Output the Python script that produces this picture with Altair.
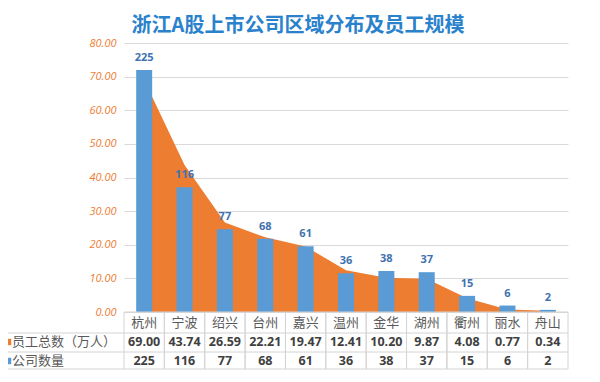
import altair as alt
import pandas as pd

# ---- data ----
cities = ["杭州", "宁波", "绍兴", "台州", "嘉兴", "温州", "金华", "湖州", "衢州", "丽水", "舟山"]
employees = [69.00, 43.74, 26.59, 22.21, 19.47, 12.41, 10.20, 9.87, 4.08, 0.77, 0.34]
companies = [225, 116, 77, 68, 61, 36, 38, 37, 15, 6, 2]
row_labels = ["员工总数（万人）", "公司数量"]
title_text = "浙江A股上市公司区域分布及员工规模"

ORANGE = "#ED7D31"
BLUE = "#5B9BD5"
GRID = "#D9D9D9"
FONT = "Noto Sans CJK SC"
NUMFONT = "Open Sans"

W, H = 444, 269
ROW1, ROW2, ROW3 = H + 11, H + 30, H + 49
L1, L2, L3 = H + 21, H + 40, H + 57
LEFT = -121

df = pd.DataFrame({
    "city": cities,
    "emp": employees,
    "cnt": companies,
})
df["emp_txt"] = [f"{v:.2f}" for v in employees]
df["cnt_txt"] = [str(v) for v in companies]

xenc = alt.X("city:N", sort=cities, axis=None,
             scale=alt.Scale(paddingInner=0, paddingOuter=0))

base = alt.Chart(df)

yleft = alt.Y("emp:Q", scale=alt.Scale(domain=[0, 80]),
              axis=alt.Axis(values=list(range(0, 81, 10)), format=".2f", title=None,
                            labelColor=ORANGE, labelFontStyle="italic", labelFontSize=11,
                            labelFont=NUMFONT, labelPadding=8, domain=False, ticks=False,
                            grid=True, gridColor=GRID))

area = base.mark_area(color=ORANGE, opacity=1, interpolate="linear").encode(
    x=xenc, y=yleft)

yright = alt.Y("cnt:Q", scale=alt.Scale(domain=[0, 250]),
               axis=alt.Axis(values=list(range(0, 251, 50)), orient="right", title=None,
                             labelColor="#6A93C8", labelFontStyle="italic", labelFontSize=11,
                             labelFont=NUMFONT, labelPadding=7, domain=False, ticks=False,
                             grid=False))

bars = base.mark_bar(color=BLUE, size=16).encode(x=xenc, y=yright)
bar_labels = base.mark_text(dy=-12, fontSize=11, fontWeight="bold", color="#3F72AF",
                            font=NUMFONT).encode(
    x=xenc, y=alt.Y("cnt:Q", scale=alt.Scale(domain=[0, 250]), axis=None), text="cnt_txt:N")

right_layer = alt.layer(bars, bar_labels)

# ---- table ----
one = alt.Data(values=[{"k": 1}])
def hline(y, x1, x2, color="#D4D4D4"):
    return alt.Chart(one).mark_rule(color=color, strokeWidth=1).encode(
        x=alt.value(x1), x2=alt.value(x2), y=alt.value(y))

vlines_l = base.mark_rule(color="#D4D4D4", strokeWidth=1).encode(
    x=alt.X("city:N", sort=cities, axis=None, bandPosition=0,
            scale=alt.Scale(paddingInner=0, paddingOuter=0)),
    y=alt.value(H), y2=alt.value(L3))
vlines_r = base.mark_rule(color="#D4D4D4", strokeWidth=1).encode(
    x=alt.X("city:N", sort=cities, axis=None, bandPosition=1,
            scale=alt.Scale(paddingInner=0, paddingOuter=0)),
    y=alt.value(H), y2=alt.value(L3))
left_border = alt.Chart(one).mark_rule(color="#D4D4D4").encode(
    x=alt.value(LEFT), y=alt.value(L1), y2=alt.value(L3))

city_txt = base.mark_text(fontSize=13, color="#595959", font=FONT).encode(
    x=xenc, y=alt.value(ROW1), text="city:N")
emp_txt = base.mark_text(fontSize=12.5, fontWeight="bold", color="#404040", font=NUMFONT).encode(
    x=xenc, y=alt.value(ROW2), text="emp_txt:N")
cnt_txt = base.mark_text(fontSize=12.5, fontWeight="bold", color="#404040", font=NUMFONT).encode(
    x=xenc, y=alt.value(ROW3), text="cnt_txt:N")

lab1 = alt.Chart(pd.DataFrame({"lab": [row_labels[0]]})).mark_text(
    align="left", fontSize=13, color="#595959", font=FONT).encode(
    x=alt.value(LEFT + 9), y=alt.value(ROW2), text="lab:N")
lab2 = alt.Chart(pd.DataFrame({"lab": [row_labels[1]]})).mark_text(
    align="left", fontSize=13, color="#595959", font=FONT).encode(
    x=alt.value(LEFT + 9), y=alt.value(ROW3), text="lab:N")
sq1 = alt.Chart(one).mark_square(color=ORANGE, opacity=1, size=42).encode(
    x=alt.value(LEFT + 5), y=alt.value(ROW2))
sq2 = alt.Chart(one).mark_square(color=BLUE, opacity=1, size=42).encode(
    x=alt.value(LEFT + 5), y=alt.value(ROW3))

title = alt.Chart(pd.DataFrame({"t": [title_text]})).mark_text(
    fontSize=20, fontWeight="bold", color="#2B82CC", font=FONT).encode(
    x=alt.value(174), y=alt.value(-17), text="t:N")

chart = alt.layer(
    area, right_layer,
    hline(H, 0, W), hline(L1, LEFT, W), hline(L2, LEFT, W), hline(L3, LEFT, W),
    vlines_l, vlines_r, left_border,
    city_txt, emp_txt, cnt_txt, lab1, lab2, sq1, sq2, title,
).resolve_scale(y="independent").properties(
    width=W, height=H,
    autosize=alt.AutoSizeParams(type="none"),
    padding={"left": 116, "top": 35, "right": 24, "bottom": 62},
).configure_view(stroke=None)

chart.save("out.html", embed_options={"renderer": "svg", "actions": False})
